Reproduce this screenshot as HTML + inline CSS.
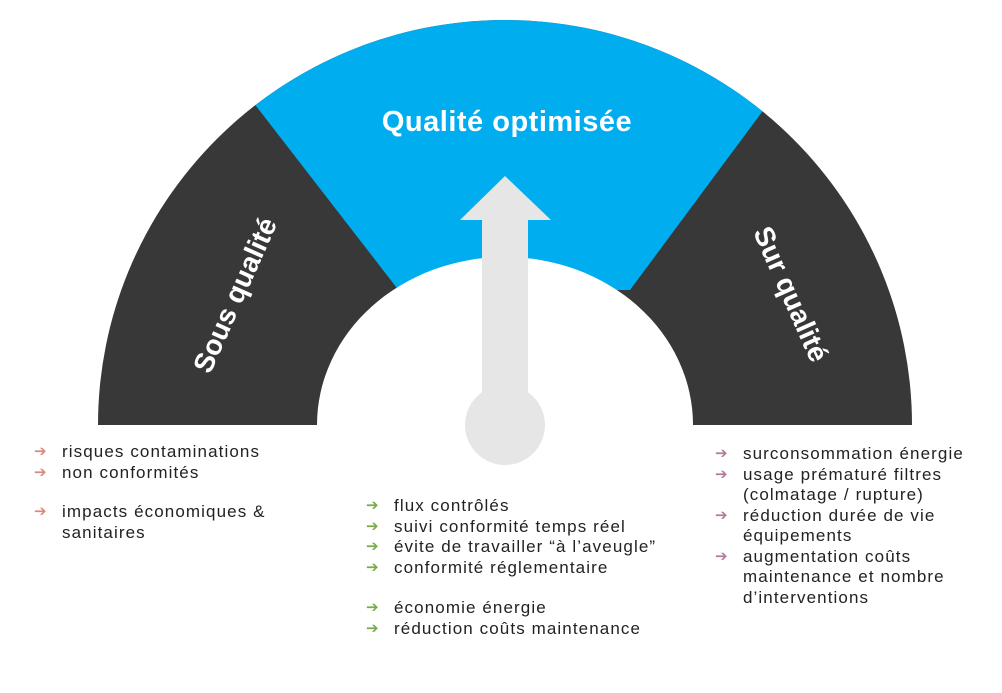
<!DOCTYPE html>
<html><head><meta charset="utf-8"><style>
html,body{margin:0;padding:0;background:#fff;}
body{width:1002px;height:693px;position:relative;overflow:hidden;font-family:"Liberation Sans",sans-serif;}
.l{position:absolute;font-size:17px;letter-spacing:1.1px;color:#222;line-height:20.5px;white-space:nowrap;}
.a{position:absolute;font-size:15px;line-height:20.5px;}
</style></head><body>
<svg width="1002" height="693" style="position:absolute;left:0;top:0">
<defs><clipPath id="c"><path d="M98,425 A407,405 0 0 1 912,425 Z"/></clipPath></defs>
<path d="M98,425 A407,405 0 0 1 912,425 Z" fill="#383838"/>
<polygon clip-path="url(#c)" points="174,0 845,0 630,290 400,292" fill="#00aeef"/>
<ellipse cx="505" cy="425" rx="188" ry="168" fill="#fff"/>
<rect x="0" y="425" width="1002" height="10" fill="#fff"/>
<polygon points="460,220 505,176 551,220 528,220 528,400 482,400 482,220" fill="#e6e6e6"/>
<circle cx="505" cy="425" r="40" fill="#e6e6e6"/>
<text x="507" y="131" text-anchor="middle" fill="#fff" font-family="Liberation Sans, sans-serif" font-weight="bold" font-size="29" letter-spacing="0.5">Qualité optimisée</text>
<text transform="translate(237,296) rotate(-66)" text-anchor="middle" fill="#fff" font-family="Liberation Sans, sans-serif" font-weight="bold" font-size="28" dominant-baseline="middle">Sous qualité</text>
<text transform="translate(789,295) rotate(66)" text-anchor="middle" fill="#fff" font-family="Liberation Sans, sans-serif" font-weight="bold" font-size="28" dominant-baseline="middle">Sur qualité</text>
</svg>

<div class="a" style="left:34px;top:442px;color:#d98b7a">➔<br>➔</div>
<div class="l" style="left:62px;top:442px">risques contaminations<br>non conformités</div>
<div class="a" style="left:34px;top:502px;color:#d98b7a">➔</div>
<div class="l" style="left:62px;top:502px">impacts économiques &amp;<br>sanitaires</div>

<div class="a" style="left:366px;top:496px;color:#7aaa4a">➔<br>➔<br>➔<br>➔</div>
<div class="l" style="left:394px;top:496px">flux contrôlés<br>suivi conformité temps réel<br>évite de travailler “à l’aveugle”<br>conformité réglementaire</div>
<div class="a" style="left:366px;top:598px;color:#7aaa4a">➔<br>➔</div>
<div class="l" style="left:394px;top:598px">économie énergie<br>réduction coûts maintenance</div>

<div class="a" style="left:715px;top:444px;color:#b77a9a">➔<br>➔<br><br>➔<br><br>➔</div>
<div class="l" style="left:743px;top:444px">surconsommation énergie<br>usage prématuré filtres<br>(colmatage / rupture)<br>réduction durée de vie<br>équipements<br>augmentation coûts<br>maintenance et nombre<br>d’interventions</div>
</body></html>
